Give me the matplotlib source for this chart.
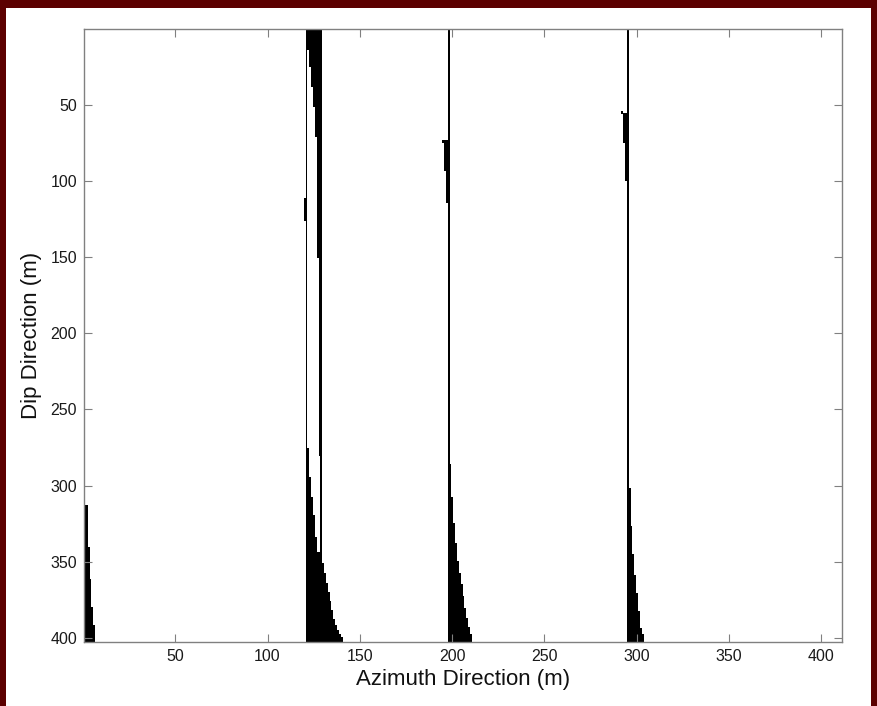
import numpy as np
import matplotlib
matplotlib.use("Agg")
import matplotlib.pyplot as plt
from matplotlib.patches import Rectangle

plt.rcParams["font.family"] = ["Liberation Sans", "DejaVu Sans"]

# Grid size of the binary map (rows = dip, columns = azimuth)
N_ROWS = 402
N_COLS = 411

# Full-height fracture traces (column indices, 1-based)
trace_cols = [121, 129, 198, 295]

# Damage wedges growing towards the bottom edge: column and first black row
wedge_a_cols = [1, 2, 3, 4, 5, 6]
wedge_a_top = [313, 313, 341, 362, 380, 392]

wedge_b_cols = [122, 123, 124, 125, 126, 127, 128,
                130, 131, 132, 133, 134, 135, 136, 137, 138, 139, 140]
wedge_b_top = [276, 295, 308, 320, 334, 344, 344,
               351, 358, 364, 370, 376, 382, 388, 392, 395, 398, 400]

wedge_c_cols = [199, 200, 201, 202, 203, 204, 205, 206, 207, 208, 209, 210]
wedge_c_top = [286, 308, 325, 338, 350, 358, 365, 373, 381, 387, 393, 398]

wedge_d_cols = [296, 297, 298, 299, 300, 301, 302, 303]
wedge_d_top = [302, 327, 345, 359, 371, 383, 394, 398]

# Wedge hanging from the top edge: column and last black row
hang_cols = [122, 123, 124, 125, 126, 127, 128]
hang_bottom = [14, 25, 38, 51, 71, 150, 280]

# Isolated patches: column, first row, last row
patch_cols = [120, 195, 196, 197, 292, 293, 294]
patch_top = [112, 74, 74, 74, 55, 56, 56]
patch_bottom = [126, 75, 93, 114, 56, 75, 100]

x_ticks = [50, 100, 150, 200, 250, 300, 350, 400]
y_ticks = [50, 100, 150, 200, 250, 300, 350, 400]

# Assemble the binary map
grid = np.zeros((N_ROWS, N_COLS))
for c in trace_cols:
    grid[:, c - 1] = 1
for cols, tops in [(wedge_a_cols, wedge_a_top), (wedge_b_cols, wedge_b_top),
                   (wedge_c_cols, wedge_c_top), (wedge_d_cols, wedge_d_top)]:
    for c, t in zip(cols, tops):
        grid[t - 1:, c - 1] = 1
for c, b in zip(hang_cols, hang_bottom):
    grid[:b, c - 1] = 1
for c, t, b in zip(patch_cols, patch_top, patch_bottom):
    grid[t - 1:b, c - 1] = 1

W, H = 877, 706
fig = plt.figure(figsize=(W / 100, H / 100), dpi=100)
fig.patch.set_facecolor("white")

left, right, top, bottom = 84, 842.2, 29.3, 641.7
ax = fig.add_axes([left / W, (H - bottom) / H, (right - left) / W, (bottom - top) / H])

ax.imshow(grid, cmap="gray_r", vmin=0, vmax=1, interpolation="nearest",
          extent=(0.5, N_COLS + 0.5, N_ROWS + 0.5, 0.5), aspect="auto")

ax.set_xlim(0.5, N_COLS + 0.5)
ax.set_ylim(N_ROWS + 0.5, 0.5)
ax.set_xticks(x_ticks)
ax.set_yticks(y_ticks)
ax.tick_params(direction="in", top=True, right=True, length=5.5, width=0.8,
               color="#808080", labelsize=11.5, labelcolor="#1a1a1a", pad=5)
for s in ax.spines.values():
    s.set_color("#808080")
    s.set_linewidth(1.0)

ax.set_xlabel("Azimuth Direction (m)", fontsize=16, labelpad=4, color="#111111")
ax.set_ylabel("Dip Direction (m)", fontsize=16, labelpad=6, color="#111111")

# Dark red frame around the figure
frame = "#5c0000"
fig.patches.append(Rectangle((0, 1 - 8 / H), 1, 8 / H, transform=fig.transFigure,
                             facecolor=frame, edgecolor="none"))
fig.patches.append(Rectangle((0, 0), 6 / W, 1, transform=fig.transFigure,
                             facecolor=frame, edgecolor="none"))
fig.patches.append(Rectangle((1 - 6 / W, 0), 6 / W, 1, transform=fig.transFigure,
                             facecolor=frame, edgecolor="none"))

fig.savefig("out.png", dpi=100)
